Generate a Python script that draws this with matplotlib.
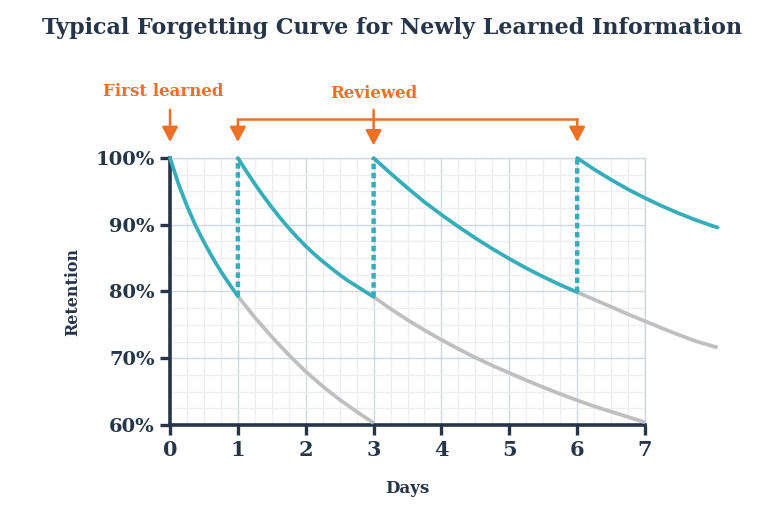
"""Кривая забывания: повторения на 1, 3 и 6 день."""

import matplotlib

matplotlib.use("Agg")
import matplotlib.pyplot as plt
from matplotlib.ticker import FuncFormatter, MultipleLocator

NAVY = "#263548"
TEAL = "#36AEBA"
GRAY = "#BFBFBF"
ORANGE = "#EE7024"
GRID_MAJOR = "#D4D7DE"
GRID_MINOR = "#ECEEF2"

# --- данные (дни, удержание в %)
first_days = [0, 0.125, 0.25, 0.375, 0.5, 0.625, 0.75, 0.875, 1.0]
first_ret = [100, 96.1, 92.8, 89.9, 87.4, 85.1, 83.0, 81.1, 79.3]

review1_days = [1.0, 1.125, 1.25, 1.375, 1.5, 1.625, 1.75, 1.875, 2.0,
                2.125, 2.25, 2.375, 2.5, 2.625, 2.75, 2.875, 3.0]
review1_ret = [100, 98.0, 96.1, 94.3, 92.6, 91.0, 89.5, 88.1, 86.8,
               85.6, 84.5, 83.5, 82.5, 81.6, 80.8, 80.0, 79.2]

review2_days = [3.0, 3.25, 3.5, 3.75, 4.0, 4.25, 4.5, 4.75, 5.0, 5.25, 5.5, 5.75, 6.0]
review2_ret = [100, 97.7, 95.5, 93.4, 91.5, 89.7, 88.0, 86.4, 84.9, 83.5, 82.2, 81.0, 79.9]

review3_days = [6.0, 6.25, 6.5, 6.75, 7.0, 7.25, 7.5, 7.75, 8.0, 8.07]
review3_ret = [100, 98.3, 96.75, 95.3, 94.0, 92.8, 91.7, 90.7, 89.8, 89.6]

# без повторения (серые хвосты)
forget1_days = [1.0, 1.25, 1.5, 1.75, 2.0, 2.25, 2.5, 2.75, 3.0]
forget1_ret = [79.3, 76.1, 73.2, 70.5, 68.0, 65.8, 63.8, 62.0, 60.3]

forget2_days = [3.0, 3.25, 3.5, 3.75, 4.0, 4.25, 4.5, 4.75, 5.0, 5.25, 5.5,
                5.75, 6.0, 6.25, 6.5, 6.75, 7.0]
forget2_ret = [79.2, 77.4, 75.75, 74.2, 72.75, 71.4, 70.1, 68.9, 67.8, 66.7, 65.65,
               64.65, 63.7, 62.8, 62.0, 61.2, 60.4]

forget3_days = [6.0, 6.25, 6.5, 6.75, 7.0, 7.25, 7.5, 7.75, 8.0, 8.07]
forget3_ret = [79.9, 78.8, 77.7, 76.6, 75.55, 74.5, 73.5, 72.55, 71.8, 71.6]

review_days = [1, 3, 6]
review_from = [79.3, 79.2, 79.9]

plt.rcParams["font.family"] = ["DejaVu Serif"]
plt.rcParams["font.weight"] = "bold"

fig = plt.figure(figsize=(7.75, 5.11), dpi=100)
ax = fig.add_axes([0.2194, 0.1683, 0.6129, 0.5225])
ax.set_xlim(0, 7)
ax.set_ylim(60, 100)

ax.xaxis.set_major_locator(MultipleLocator(1))
ax.xaxis.set_minor_locator(MultipleLocator(0.25))
ax.yaxis.set_major_locator(MultipleLocator(10))
ax.yaxis.set_minor_locator(MultipleLocator(2.5))
ax.yaxis.set_major_formatter(FuncFormatter(lambda v, _: f"{v:.0f}%"))
ax.grid(which="minor", color=GRID_MINOR, lw=0.9)
ax.grid(which="major", color=GRID_MAJOR, lw=1.0)
ax.set_axisbelow(True)

for side in ("left", "bottom"):
    ax.spines[side].set_color(NAVY)
    ax.spines[side].set_linewidth(2.6)
for side in ("top", "right"):
    ax.spines[side].set_color(GRID_MAJOR)
    ax.spines[side].set_linewidth(1.0)

ax.tick_params(which="major", length=7, width=2.4, color=NAVY, labelcolor=NAVY)
ax.tick_params(which="minor", length=0)
ax.tick_params(axis="y", labelsize=14, pad=4)
ax.tick_params(axis="x", labelsize=15, pad=4)

lw = 2.7
for d, r in [(forget1_days, forget1_ret), (forget2_days, forget2_ret),
             (forget3_days, forget3_ret)]:
    ax.plot(d, r, color=GRAY, lw=lw, clip_on=False, zorder=3,
            solid_capstyle="butt", solid_joinstyle="round")
for d, r in [(first_days, first_ret), (review1_days, review1_ret),
             (review2_days, review2_ret), (review3_days, review3_ret)]:
    ax.plot(d, r, color=TEAL, lw=lw, clip_on=False, zorder=4,
            solid_capstyle="round", solid_joinstyle="round")
# пунктир повторения
for d, r0 in zip(review_days, review_from):
    ax.plot([d, d], [r0, 100], color=TEAL, lw=3.2, ls=(0, (1.25, 0.8)),
            dash_capstyle="butt", clip_on=False, zorder=4, snap=False)

# --- подписи-стрелки над графиком
arrow = dict(arrowstyle="-|>,head_length=0.45,head_width=0.24", color=ORANGE,
             lw=1.8, shrinkA=0, shrinkB=0, mutation_scale=20)
ax.annotate("", xy=(0, 102.4), xytext=(0, 107.2), arrowprops=arrow,
            annotation_clip=False)
ax.annotate("", xy=(3, 101.9), xytext=(3, 107.2), arrowprops=arrow,
            annotation_clip=False)
for d in (1, 6):
    ax.annotate("", xy=(d, 102.4), xytext=(d, 105.8), arrowprops=arrow,
                annotation_clip=False)
ax.plot([1, 6], [105.8, 105.8], color=ORANGE, lw=1.8, clip_on=False,
        solid_capstyle="projecting")
ax.text(-0.1, 110.0, "First learned", ha="center", va="center",
        color=ORANGE, fontsize=12)
ax.text(3, 109.7, "Reviewed", ha="center", va="center",
        color=ORANGE, fontsize=12)

ax.text(0.5, -0.236, "Days", transform=ax.transAxes, ha="center",
        va="center", color=NAVY, fontsize=12)
ax.text(-0.204, 0.5, "Retention", transform=ax.transAxes, ha="center",
        va="center", rotation=90, color=NAVY, fontsize=11.5)

fig.text(0.506, 0.945, "Typical Forgetting Curve for Newly Learned Information",
         ha="center", va="center", color=NAVY, fontsize=16)

fig.savefig("out.png", dpi=100)
